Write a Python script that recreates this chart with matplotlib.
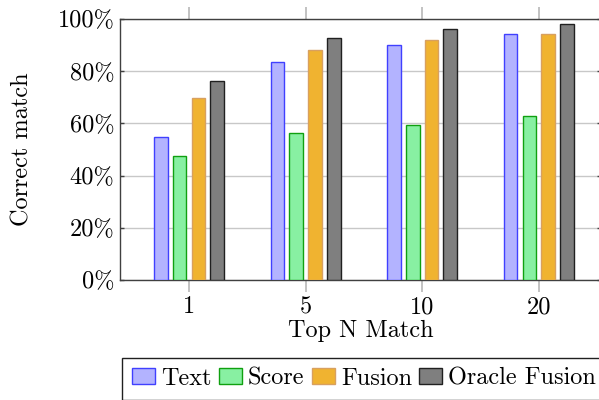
import matplotlib
matplotlib.use("Agg")
import matplotlib.pyplot as plt
from matplotlib.ticker import FuncFormatter
import numpy as np

plt.rcParams['font.family'] = ['cmr10', 'DejaVu Serif']
plt.rcParams['mathtext.fontset'] = 'cm'
plt.rcParams['axes.unicode_minus'] = False
plt.rcParams['axes.formatter.use_mathtext'] = True

categories = ["1", "5", "10", "20"]
series_names = ["Text", "Score", "Fusion", "Oracle Fusion"]
text_vals = [54.8, 83.4, 90.2, 94.1]
score_vals = [47.4, 56.4, 59.5, 62.7]
fusion_vals = [69.6, 88.1, 92.0, 94.4]
oracle_vals = [76.1, 92.6, 96.0, 98.1]
yticks = [0, 20, 40, 60, 80, 100]

fills = ["#b3b3ff", "#88f0a2", "#f0b330", "#7f7f7f"]
edges = ["#4040ff", "#10a010", "#d8a060", "#202020"]

FS = 17.5

fig = plt.figure(figsize=(5.99, 4.0), dpi=100)
ax = fig.add_axes([120 / 599, 0.30, (601 - 120) / 599, (280 - 19) / 400])

x = np.arange(len(categories))
spacing = 0.161
width = 0.1175
all_vals = [text_vals, score_vals, fusion_vals, oracle_vals]
handles = []
for i, vals in enumerate(all_vals):
    b = ax.bar(x + (i - 1.5) * spacing, vals, width, color=fills[i],
               edgecolor=edges[i], linewidth=1.0, label=series_names[i], zorder=3)
    handles.append(b)

ax.set_xlim(-0.592, 3.534)
ax.set_ylim(0, 100)
ax.set_xticks(x)
ax.set_xticklabels(categories)
ax.set_yticks(yticks)
ax.yaxis.set_major_formatter(FuncFormatter(lambda v, p: f"{int(v)}%"))

ax.yaxis.grid(True, color="#c8c8c8", linewidth=1.0, zorder=0)
ax.set_axisbelow(True)

for s in ax.spines.values():
    s.set_color("#404040")
    s.set_linewidth(1.0)

ax.tick_params(axis='x', which='major', direction='out', length=8.5, width=1.2,
               color="#b8b8b8", top=True, bottom=True, labelsize=FS, pad=3)
ax.tick_params(axis='y', which='major', direction='in', length=3, width=1.0,
               color="#404040", left=True, right=True, labelsize=FS, pad=4)

ax.set_xlabel("Top N Match", fontsize=FS, labelpad=1)
ax.set_ylabel("Correct match", fontsize=FS)
ax.yaxis.set_label_coords(-(120 - 34) / 481, 0.5)

leg = fig.legend(handles=handles, labels=series_names, loc="upper left",
                 bbox_to_anchor=(122 / 599, (400 - 358) / 400), ncol=4,
                 fontsize=FS, frameon=True, fancybox=False, framealpha=1,
                 edgecolor="#202020", handlelength=0.95, handleheight=0.62,
                 handletextpad=0.25, columnspacing=0.3, borderpad=0.4,
                 borderaxespad=0)
leg.get_frame().set_linewidth(1.0)

fig.savefig("out.png", dpi=100)
